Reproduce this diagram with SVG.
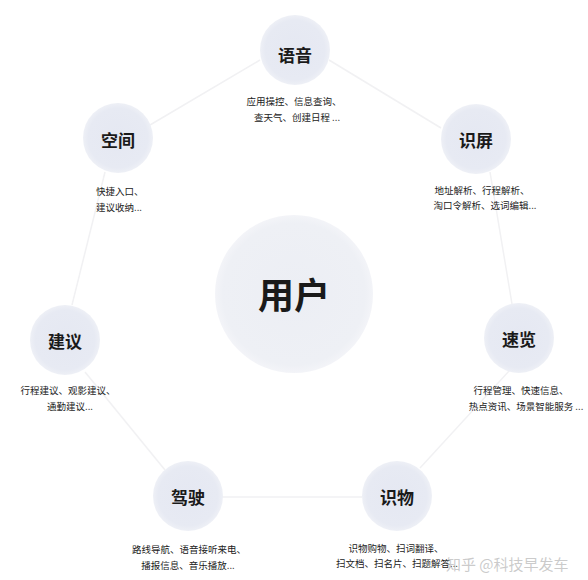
<svg xmlns="http://www.w3.org/2000/svg" width="588" height="580" viewBox="0 0 588 580">
<defs>
<radialGradient id="g" cx="50%" cy="50%" r="50%">
<stop offset="0%" stop-color="#e5e8f2"/>
<stop offset="85%" stop-color="#e7eaf3"/>
<stop offset="100%" stop-color="#eef0f6"/>
</radialGradient>
<radialGradient id="gc" cx="50%" cy="50%" r="50%">
<stop offset="0%" stop-color="#eceef4"/>
<stop offset="90%" stop-color="#eef0f5"/>
<stop offset="100%" stop-color="#f3f4f8"/>
</radialGradient>
<style>
.n{fill:url(#g)}
.t{font-family:"Noto Sans CJK SC","Noto Sans",sans-serif;font-size:17px;font-weight:700;fill:#1a1a1a;text-anchor:middle;dominant-baseline:central}
.d{font-family:"Noto Sans CJK SC","Noto Sans",sans-serif;font-size:9.5px;fill:#222;text-anchor:middle;dominant-baseline:central}
.c line{stroke:#f1f1f3;stroke-width:1.5}
</style>
</defs>
<rect width="588" height="580" fill="#ffffff"/>
<g id="connectors" class="c">
<line x1="329" y1="60" x2="441" y2="128"/>
<line x1="490" y1="172" x2="512" y2="304"/>
<line x1="510" y1="370" x2="420" y2="468"/>
<line x1="362" y1="497" x2="222" y2="497"/>
<line x1="165" y1="470" x2="85" y2="372"/>
<line x1="72" y1="305" x2="105" y2="172"/>
<line x1="150" y1="125" x2="260" y2="60"/>
</g>
<g id="center">
<circle cx="294" cy="294" r="79" fill="url(#gc)"/>
<text x="294" y="293" class="t" style="font-size:36px">用户</text>
</g>
<g id="yuyin">
<circle class="n" cx="295" cy="50" r="35"/>
<text class="t" x="295" y="54">语音</text>
<text class="d" x="294" y="101">应用操控、信息查询、</text>
<text class="d" x="297" y="117">查天气、创建日程 ...</text>
</g>
<g id="kongjian">
<circle class="n" cx="118" cy="138" r="35"/>
<text class="t" x="118" y="139">空间</text>
<text class="d" x="96" y="191" style="text-anchor:start">快捷入口、</text>
<text class="d" x="96" y="207" style="text-anchor:start">建议收纳...</text>
</g>
<g id="shiping">
<circle class="n" cx="476" cy="139" r="35"/>
<text class="t" x="476" y="139">识屏</text>
<text class="d" x="482" y="190">地址解析、行程解析、</text>
<text class="d" x="485" y="205">淘口令解析、选词编辑...</text>
</g>
<g id="jianyi">
<circle class="n" cx="65" cy="340" r="35"/>
<text class="t" x="65" y="340">建议</text>
<text class="d" x="68" y="390">行程建议、观影建议、</text>
<text class="d" x="70" y="406">通勤建议...</text>
</g>
<g id="sulan">
<circle class="n" cx="519" cy="338" r="35"/>
<text class="t" x="519" y="338">速览</text>
<text class="d" x="521" y="390">行程管理、快速信息、</text>
<text class="d" x="526" y="406">热点资讯、场景智能服务 ...</text>
</g>
<g id="jiashi">
<circle class="n" cx="188" cy="496" r="35"/>
<text class="t" x="188" y="496">驾驶</text>
<text class="d" x="189" y="549">路线导航、语音接听来电、</text>
<text class="d" x="188" y="565">播报信息、音乐播放...</text>
</g>
<g id="shiwu">
<circle class="n" cx="397" cy="496" r="35"/>
<text class="t" x="397" y="496">识物</text>
<text class="d" x="396" y="548">识物购物、扫词翻译、</text>
<text class="d" x="336" y="563" style="text-anchor:start">扫文档、扫名片、扫题解答...</text>
</g>
<text x="446" y="563" style="font-family:'Noto Sans CJK SC',sans-serif;font-size:15px;fill:#b4b4b4;fill-opacity:0.7;dominant-baseline:central">知乎 @科技早发车</text>
</svg>
